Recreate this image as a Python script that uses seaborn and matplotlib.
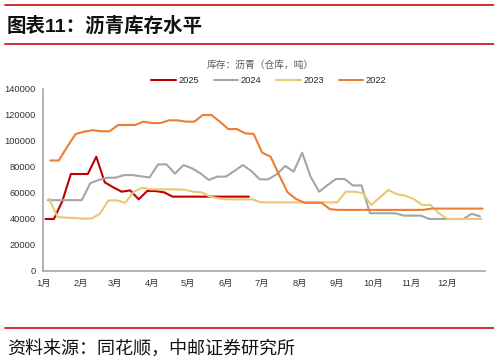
import numpy as np
import pandas as pd
import matplotlib
matplotlib.use("Agg")
import matplotlib.pyplot as plt
import seaborn as sns
from matplotlib.lines import Line2D

# ---------------- data ----------------
years = ["2025", "2024", "2023", "2022"]
start_dates = {"2025": "2025-01-03", "2024": "2024-01-05",
               "2023": "2023-01-06", "2022": "2022-01-07"}

v2025 = [40000, 40000, 53800, 74600, 74600, 74600, 87900, 68200, 64400, 61000,
         62000, 55100, 61500, 61500, 60500, 57200, 57200, 57200, 57200, 57200,
         57200, 57200, 57200, 57200, 57200]

v2024 = [54500, 54500, 54500, 54500, 54500, 67500, 70000, 71800, 71800, 73800,
         73800, 72800, 72000, 82000, 82000, 74900, 81500, 79000, 75100, 70000,
         72600, 72600, 76900, 81500, 76900, 70500, 70500, 74400, 80800, 76400,
         91000, 72500, 61000, 66100, 70800, 70800, 65800, 65800, 44400, 44400,
         44400, 44400, 42600, 42600, 42600, 40000, 40000, 40000, 40000, 40000,
         44000, 42000]

v2023 = [55500, 41500, 41000, 40800, 40300, 40300, 44000, 54300, 54300, 52500,
         61000, 64000, 62800, 62800, 62800, 62800, 62500, 61000, 60500, 57200,
         55900, 55100, 55100, 55100, 55100, 52800, 52800, 52800, 52800, 52800,
         52800, 52800, 52800, 52800, 52800, 61000, 61000, 60000, 50800, 56400,
         62300, 59200, 57900, 55400, 50800, 50800, 44400, 40000, 40000, 40000,
         40000, 40000]

v2022 = [85000, 85000, 95600, 105400, 107200, 108300, 107500, 107500, 112300, 112300,
         112300, 114900, 113800, 113800, 115900, 115900, 114900, 114900, 120000, 120000,
         114900, 109200, 109200, 105900, 105400, 91000, 87900, 73800, 60500, 55400,
         52500, 52500, 52500, 47500, 47000, 47000, 47000, 47000, 47000, 47000,
         47000, 47000, 47000, 47000, 47000, 48000, 48000, 48000, 48000, 48000,
         48000, 48000]

series = {"2025": v2025, "2024": v2024, "2023": v2023, "2022": v2022}
colors = {"2025": "#C00000", "2024": "#A5A5A5", "2023": "#E8C872", "2022": "#ED7D31"}

month_labels = ["1月", "2月", "3月", "4月", "5月", "6月",
                "7月", "8月", "9月", "10月", "11月", "12月"]
month_days = [0, 31, 59, 90, 120, 151, 181, 212, 243, 273, 304, 334]
y_ticks = [0, 20000, 40000, 60000, 80000, 100000, 120000, 140000]

title = "图表11：沥青库存水平"
legend_title = "库存：沥青（仓库，吨）"
source = "资料来源：同花顺，中邮证券研究所"

# ---------------- build frame ----------------
rows = []
for y in years:
    d = pd.date_range(start_dates[y], periods=len(series[y]), freq="7D")
    day = (d - pd.Timestamp(f"{y}-01-01")).days
    for dd, v in zip(day, series[y]):
        rows.append({"year": y, "day": dd, "value": v})
df = pd.DataFrame(rows)

# ---------------- plot ----------------
sns.set_style("white")
plt.rcParams["font.family"] = ["Liberation Sans", "Noto Sans CJK SC", "DejaVu Sans"]

fig = plt.figure(figsize=(4.94, 3.63), dpi=100)
ax = fig.add_axes([43 / 494, 1 - 271 / 363, 442 / 494, (271 - 89) / 363])

sns.lineplot(data=df, x="day", y="value", hue="year", hue_order=years,
             palette=colors, linewidth=1.5, ax=ax, legend=False)

ax.set_xlim(0, 365)
ax.set_ylim(0, 140000)
ax.set_xticks(month_days)
ax.set_xticklabels(month_labels)
ax.set_yticks(y_ticks)
ax.set_yticklabels([str(t) for t in y_ticks])
ax.set_xlabel("")
ax.set_ylabel("")

for s in ["top", "right"]:
    ax.spines[s].set_visible(False)
for s in ["left", "bottom"]:
    ax.spines[s].set_color("#A6A6A6")
    ax.spines[s].set_linewidth(1.2)

ax.tick_params(axis="x", direction="in", length=3, width=0.8, color="#A6A6A6",
               labelsize=6.7, labelcolor="#333333", pad=6)
ax.tick_params(axis="y", direction="inout", length=4, width=0.8, color="#A6A6A6",
               labelsize=6.7, labelcolor="#333333", pad=3)

handles = [Line2D([0], [0], color=colors[y], lw=1.5) for y in years]
fig.legend(handles, years, ncol=4, loc="center", bbox_to_anchor=(269 / 494, 1 - 80.7 / 363),
           frameon=False, fontsize=6.7, handlelength=2.6, handletextpad=0.3,
           columnspacing=1.6, borderpad=0.2)
fig.text(260 / 494, 1 - 65 / 363, legend_title, fontsize=7, color="#595959",
         ha="center", va="center")

# header / footer
fig.text(7 / 494, 1 - 26 / 363, title, fontsize=14, fontweight="bold",
         family=["Liberation Sans", "Noto Sans CJK SC"], ha="left", va="center", color="#111111")
fig.text(7 / 494, 1 - 349 / 363, source, fontsize=13, family=["Noto Sans CJK SC"],
         ha="left", va="center", color="#111111")

for yy in [5, 44, 327.5]:
    fig.add_artist(Line2D([5 / 494, 1.0], [1 - yy / 363, 1 - yy / 363],
                          color="#D0201E", lw=1.3, transform=fig.transFigure))

fig.savefig("out.png", dpi=100)
